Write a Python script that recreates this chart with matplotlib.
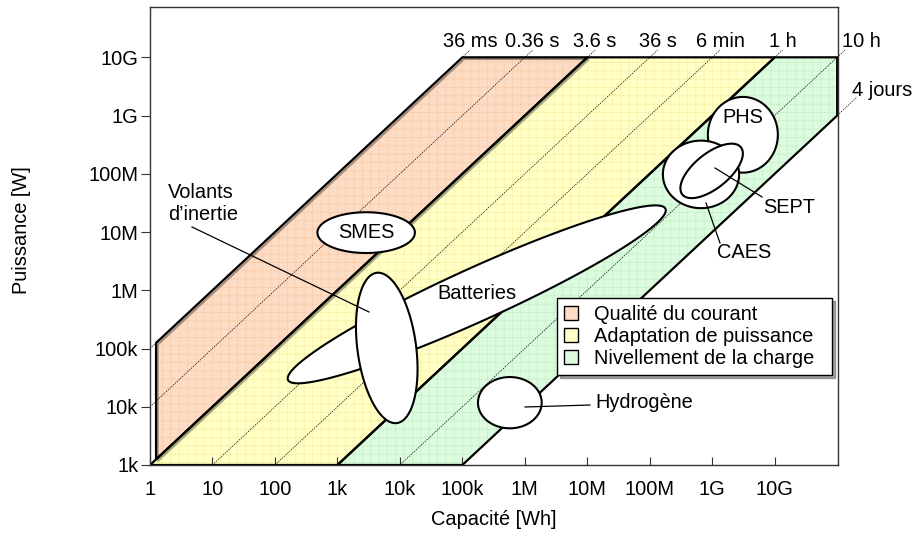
import numpy as np
import matplotlib.pyplot as plt
from matplotlib.patches import Patch
import matplotlib.patheffects as pe

plt.rcParams['font.family'] = ['Liberation Sans', 'DejaVu Sans']
plt.rcParams['font.size'] = 14.4
plt.rcParams['hatch.linewidth'] = 0.6

# ticks of the log-log axes
x_ticks = [1, 10, 100, 1e3, 1e4, 1e5, 1e6, 1e7, 1e8, 1e9, 1e10]
x_labels = ['1', '10', '100', '1k', '10k', '100k', '1M', '10M', '100M', '1G', '10G']
y_ticks = [1e3, 1e4, 1e5, 1e6, 1e7, 1e8, 1e9, 1e10]
y_labels = ['1k', '10k', '100k', '1M', '10M', '100M', '1G', '10G']

# constant discharge time lines, P = E / t (t in hours)
time_labels = ['36 ms', '0.36 s', '3.6 s', '36 s', '6 min', '1 h', '10 h', '4 jours']
time_hours = [1e-5, 1e-4, 1e-3, 1e-2, 1e-1, 1, 10, 100]

# application zones, corners as (capacity Wh, power W)
zone_names = ['Qualité du courant', 'Adaptation de puissance', 'Nivellement de la charge']
zone_E = [[1.25, 1.25, 1e5, 1e7],
          [1, 1e7, 1e10, 1e3],
          [1e3, 1e10, 1e11, 1e11, 1e5]]
zone_P = [[1.25e3, 1.25e5, 1e10, 1e10],
          [1e3, 1e10, 1e10, 1e3],
          [1e3, 1e10, 1e10, 1e9, 1e3]]
zone_colors = ['#fddcc6', '#ffffc6', '#ddfbdf']
zone_hatch = ['#fbcdaa', '#f9f1a8', '#c6f2ca']

# storage technologies: centre (log10 Wh, log10 W), half axes in decades, tilt
tech = ['Batteries', 'Volants', 'SMES', 'Hydrogène', 'PHS', 'CAES', 'SEPT']
tech_logE = [5.23, 3.79, 3.46, 5.76, 9.49, 8.82, 8.99]
tech_logP = [5.93, 5.01, 6.99, 4.07, 8.67, 7.99, 8.05]
tech_a = [3.36, 1.30, 0.78, 0.51, 0.56, 0.61, 0.62]
tech_b = [0.45, 0.47, 0.35, 0.44, 0.65, 0.58, 0.29]
tech_angle = [26, 97, 0, 0, 0, 0, 42]

fig = plt.figure(figsize=(9.13, 5.35), dpi=100)
ax = fig.add_axes([150/913, 70/535, 688/913, 458/535])
ax.set_xscale('log')
ax.set_yscale('log')
ax.set_xlim(1, 10**11.013)
ax.set_ylim(1e3, 10**10.864)

# zones: hatched fill then thick outline
for i in range(3):
    ax.fill(zone_E[i], zone_P[i], facecolor=zone_colors[i], edgecolor=zone_hatch[i],
            hatch='++', lw=0, zorder=1)
for i in range(3):
    o = ax.fill(zone_E[i], zone_P[i], facecolor='none', edgecolor='black', lw=1.6,
                zorder=3)[0]
    if i == 0:
        o.set_path_effects([pe.SimpleLineShadow(offset=(1.2, -1.2), alpha=0.35),
                            pe.Normal()])

# dotted time lines with their labels
for lab, t in zip(time_labels, time_hours):
    if t <= 1e-3:
        E0 = 1.0
    else:
        E0 = 1e3 * t
    P0 = E0 / t
    if lab == '4 jours':
        P1 = 10**9.32
    else:
        P1 = 10**10.126
    E1 = P1 * t
    ax.plot([E0, E1], [P0, P1], color='black', lw=0.5, ls=(0, (2, 1.5)),
            zorder=2, clip_on=False)
    if lab == '10 h':
        ax.annotate(lab, (E1, P1), xytext=(-2, 2), textcoords='offset points',
                    ha='left', va='baseline', annotation_clip=False)
    elif lab == '4 jours':
        ax.annotate(lab, (E1, P1), xytext=(-4, 1), textcoords='offset points',
                    ha='left', va='baseline', annotation_clip=False)
    else:
        ax.annotate(lab, (E1, P1), xytext=(0, 2), textcoords='offset points',
                    ha='center', va='baseline', annotation_clip=False)

# technology ellipses (drawn in log space)
th = np.linspace(0, 2*np.pi, 300)
for i in range(len(tech)):
    r = np.radians(tech_angle[i])
    lx = tech_logE[i] + tech_a[i]*np.cos(th)*np.cos(r) - tech_b[i]*np.sin(th)*np.sin(r)
    ly = tech_logP[i] + tech_a[i]*np.cos(th)*np.sin(r) + tech_b[i]*np.sin(th)*np.cos(r)
    ax.fill(10**lx, 10**ly, facecolor='white', edgecolor='black', lw=1.5, zorder=4 + i*0.1)

# leader lines
ax.plot([10**0.672, 10**3.506], [10**7.087, 10**5.627], color='black', lw=0.9, zorder=5)
ax.plot([10**6.003, 10**7.043], [10**3.996, 10**4.030], color='black', lw=0.9, zorder=5)
ax.plot([10**9.044, 10**9.797], [10**8.100, 10**7.602], color='black', lw=0.9, zorder=5)
ax.plot([10**8.900, 10**9.124], [10**7.499, 10**6.812], color='black', lw=0.9, zorder=5)

# labels
ax.text(10**0.288, 10**7.49, 'Volants\nd’inertie', ha='left', va='center',
        linespacing=1.15, zorder=6)
ax.text(10**3.458, 10**6.99, 'SMES', ha='center', va='center', zorder=6)
ax.text(10**5.235, 10**5.95, 'Batteries', ha='center', va='center', zorder=6)
ax.text(10**9.493, 10**8.975, 'PHS', ha='center', va='center', zorder=6)
ax.text(10**9.813, 10**7.413, 'SEPT', ha='left', va='center', zorder=6)
ax.text(10**9.517, 10**6.657, 'CAES', ha='center', va='center', zorder=6)
ax.text(10**7.123, 10**4.065, 'Hydrogène', ha='left', va='center', zorder=6)

# axes
ax.set_xticks(x_ticks)
ax.set_xticklabels(x_labels)
ax.set_yticks(y_ticks)
ax.set_yticklabels(y_labels)
ax.minorticks_off()
ax.tick_params(axis='x', direction='in', length=6, width=0.8, pad=11, color='#333333')
ax.tick_params(axis='y', direction='out', length=6.5, width=0.8, pad=2, color='#333333')
for s in ax.spines.values():
    s.set_color('#333333')
    s.set_linewidth(1)
    s.set_zorder(7)

ax.set_xlabel('Capacité [Wh]')
ax.set_ylabel('Puissance [W]')
ax.xaxis.set_label_coords(0.5, -0.098)
ax.yaxis.set_label_coords(-0.173, 0.513)

handles = [Patch(facecolor=zone_colors[i], edgecolor='black', lw=1) for i in range(3)]
leg = ax.legend(handles, zone_names, loc='upper left', mode='expand',
                bbox_to_anchor=(0.592, 0.365, 0.4, 0.0), borderaxespad=0,
                fancybox=False, shadow=True, framealpha=1, edgecolor='black',
                handlelength=0.7, handleheight=0.7, handletextpad=0.8,
                labelspacing=0.15, borderpad=0.35)
leg.get_frame().set_linewidth(1)
leg.set_zorder(8)

fig.savefig('out.png', dpi=100)
